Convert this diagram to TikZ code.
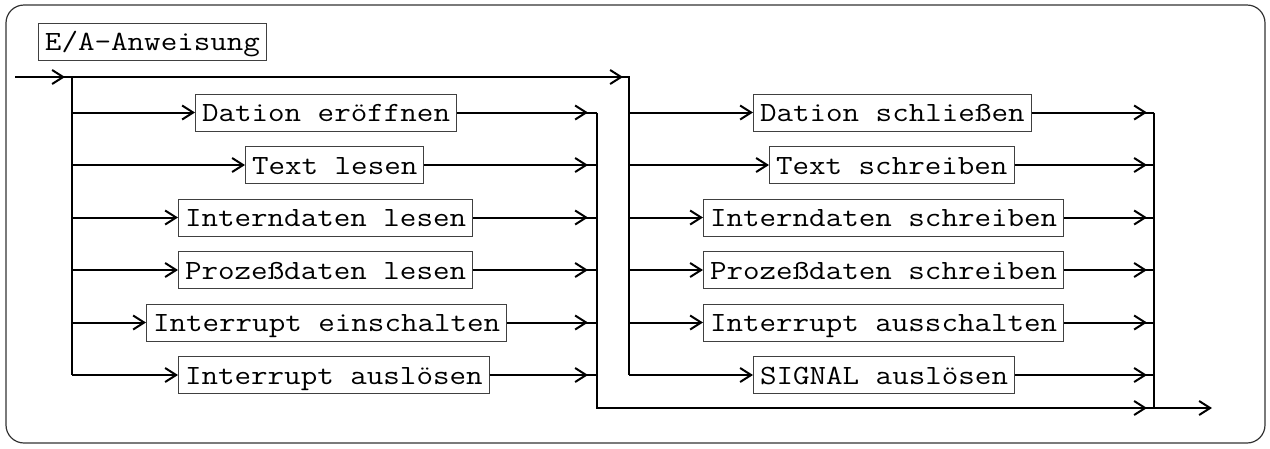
\documentclass[tikz,border=0pt]{standalone}
\usepackage{graphicx}
\usetikzlibrary{arrows.meta}
\tikzset{
  conn/.style={line width=2pt},
  arr/.style={conn,-{Straight Barb[length=11pt,width=14pt]}},
  tbox/.style={draw=black!75,line width=1pt,anchor=west,inner xsep=6.5pt,inner ysep=9.5pt,
     text height=18pt,text depth=0pt,font=\fontsize{27.8}{30}\selectfont\ttfamily},
  frame/.style={draw=black!80,line width=1.2pt,rounded corners=18pt}
}
\newcommand{\wt}[1]{\scalebox{1.155}[1]{#1}}
\begin{document}
\begin{tikzpicture}[x=1pt,y=-1pt]
\useasboundingbox (0,0) rectangle (1270,448);
\draw[frame] (6,5) rectangle (1265,443);
\node[tbox] (title) at (38,41.5) {\wt{E/A-Anweisung}};
% left column
\node[tbox] (l1) at (195,112.5) {\wt{Dation eröffnen}};
\node[tbox] (l2) at (245,165) {\wt{Text lesen}};
\node[tbox] (l3) at (178,217.5) {\wt{Interndaten lesen}};
\node[tbox] (l4) at (178,270) {\wt{Prozeßdaten lesen}};
\node[tbox] (l5) at (146,322.5) {\wt{Interrupt einschalten}};
\node[tbox] (l6) at (178,375) {\wt{Interrupt auslösen}};
% right column
\node[tbox] (r1) at (753,112.5) {\wt{Dation schließen}};
\node[tbox] (r2) at (769,165) {\wt{Text schreiben}};
\node[tbox] (r3) at (703,217.5) {\wt{Interndaten schreiben}};
\node[tbox] (r4) at (703,270) {\wt{Prozeßdaten schreiben}};
\node[tbox] (r5) at (703,322.5) {\wt{Interrupt ausschalten}};
\node[tbox] (r6) at (753,375) {\wt{SIGNAL auslösen}};
% junction coordinates
\coordinate (in) at (15,77);
\coordinate (sA) at (72,77);
\coordinate (tA) at (629,77);
\coordinate (jL) at (597,112.5);
\coordinate (jLb) at (597,408);
\coordinate (jR) at (1154,112.5);
\coordinate (jRb) at (1154,408);
\coordinate (out) at (1212,408);
% entry and top line
\draw[conn] (in) -- (sA);
\draw[arr] (in) -- ([xshift=-7pt]sA);
\draw[conn] (sA) -- (tA) -- (tA |- r6.west);
\draw[arr] (sA) -- ([xshift=-6pt]tA);
\draw[conn] (sA) -- (sA |- l6.west);
% left branches
\foreach \n in {l1,l2,l3,l4,l5,l6}{
  \draw[arr] (sA |- \n.west) -- (\n.west);
  \draw[conn] (\n.east) -- (jL |- \n.east);
  \draw[arr] (\n.east) -- ([xshift=-9pt]jL |- \n.east);
}
\draw[conn] (jL) -- (jLb) -- (jRb);
\draw[arr] (jLb) -- ([xshift=-7pt]jRb);
% right branches
\foreach \n in {r1,r2,r3,r4,r5,r6}{
  \draw[arr] (tA |- \n.west) -- (\n.west);
  \draw[conn] (\n.east) -- (jR |- \n.east);
  \draw[arr] (\n.east) -- ([xshift=-7pt]jR |- \n.east);
}
\draw[conn] (jR) -- (jRb);
\draw[arr] (jRb) -- (out);
\end{tikzpicture}
\end{document}
